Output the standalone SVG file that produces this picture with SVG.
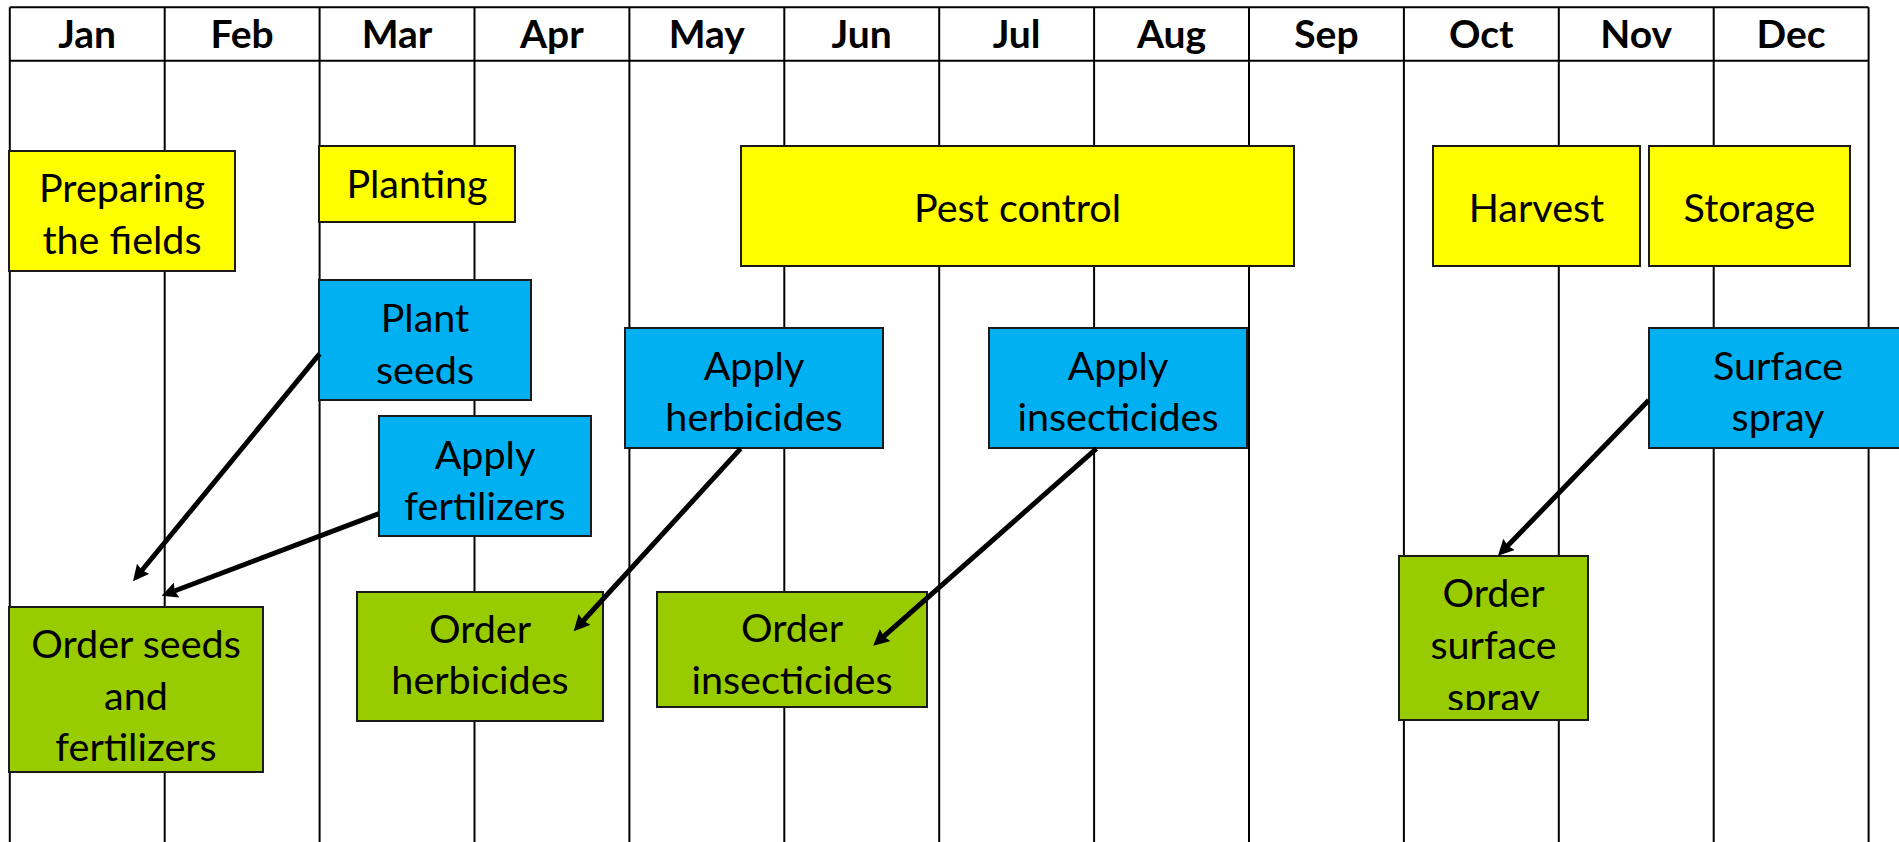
<svg xmlns="http://www.w3.org/2000/svg" width="1899" height="842" viewBox="0 0 1899 842">
<style>
.grid{stroke:#000;stroke-width:2;fill:none}
.hdr{font-family:Lato,"Liberation Sans",sans-serif;font-weight:bold;font-size:39px;fill:#000;text-anchor:middle}
.lbl{font-family:Lato,"Liberation Sans",sans-serif;font-size:39.5px;fill:#000;text-anchor:middle}
.y{fill:#FFFF00;stroke:#1a1a1a;stroke-width:2}
.b{fill:#00B0F0;stroke:#1a1a1a;stroke-width:2}
.g{fill:#99CC00;stroke:#1a1a1a;stroke-width:2}
.arr{stroke:#000;stroke-width:5;fill:none;marker-end:url(#ah)}
</style>
<defs>
<marker id="ah" markerUnits="userSpaceOnUse" markerWidth="16" markerHeight="16" viewBox="0 0 16 16" refX="8" refY="8" orient="auto">
<path d="M0,0 L16,8 L0,16 L2,8 z" fill="#000"/>
</marker>
<clipPath id="clipSpray"><rect x="1399" y="556" width="189" height="154"/></clipPath>
</defs>
<rect x="0" y="0" width="1899" height="842" fill="#fff"/>
<g id="grid">
<line class="grid" x1="9.8" y1="7.3" x2="1868.6" y2="7.3"/>
<line class="grid" x1="9.8" y1="60.7" x2="1868.6" y2="60.7"/>
<line class="grid" x1="9.8" y1="7.3" x2="9.8" y2="842"/>
<line class="grid" x1="164.7" y1="7.3" x2="164.7" y2="842"/>
<line class="grid" x1="319.6" y1="7.3" x2="319.6" y2="842"/>
<line class="grid" x1="474.5" y1="7.3" x2="474.5" y2="842"/>
<line class="grid" x1="629.4" y1="7.3" x2="629.4" y2="842"/>
<line class="grid" x1="784.3" y1="7.3" x2="784.3" y2="842"/>
<line class="grid" x1="939.2" y1="7.3" x2="939.2" y2="842"/>
<line class="grid" x1="1094.1" y1="7.3" x2="1094.1" y2="842"/>
<line class="grid" x1="1249" y1="7.3" x2="1249" y2="842"/>
<line class="grid" x1="1403.9" y1="7.3" x2="1403.9" y2="842"/>
<line class="grid" x1="1558.8" y1="7.3" x2="1558.8" y2="842"/>
<line class="grid" x1="1713.7" y1="7.3" x2="1713.7" y2="842"/>
<line class="grid" x1="1868.6" y1="7.3" x2="1868.6" y2="842"/>
</g>
<g id="months">
<text class="hdr" x="87.2" y="47.5">Jan</text>
<text class="hdr" x="242.1" y="47.5">Feb</text>
<text class="hdr" x="397" y="47.5">Mar</text>
<text class="hdr" x="551.9" y="47.5">Apr</text>
<text class="hdr" x="706.8" y="47.5">May</text>
<text class="hdr" x="861.7" y="47.5">Jun</text>
<text class="hdr" x="1016.6" y="47.5">Jul</text>
<text class="hdr" x="1171.5" y="47.5">Aug</text>
<text class="hdr" x="1326.4" y="47.5">Sep</text>
<text class="hdr" x="1481.3" y="47.5">Oct</text>
<text class="hdr" x="1636.2" y="47.5">Nov</text>
<text class="hdr" x="1791.1" y="47.5">Dec</text>
</g>
<g id="preparing"><rect class="y" x="9" y="151" width="226" height="120"/><text class="lbl" x="122" y="202">Preparing</text><text class="lbl" x="122" y="254">the fields</text></g>
<g id="planting"><rect class="y" x="319" y="146" width="196" height="76"/><text class="lbl" x="417" y="198">Planting</text></g>
<g id="pest"><rect class="y" x="741" y="146" width="553" height="120"/><text class="lbl" x="1017.5" y="222">Pest control</text></g>
<g id="harvest"><rect class="y" x="1433" y="146" width="207" height="120"/><text class="lbl" x="1536.5" y="222">Harvest</text></g>
<g id="storage"><rect class="y" x="1649" y="146" width="201" height="120"/><text class="lbl" x="1749.5" y="222">Storage</text></g>
<g id="plantseeds"><rect class="b" x="319" y="280" width="212" height="120"/><text class="lbl" x="425" y="332">Plant</text><text class="lbl" x="425" y="384">seeds</text></g>
<g id="applyfert"><rect class="b" x="379" y="416" width="212" height="120"/><text class="lbl" x="485" y="469">Apply</text><text class="lbl" x="485" y="520">fertilizers</text></g>
<g id="applyherb"><rect class="b" x="625" y="328" width="258" height="120"/><text class="lbl" x="754" y="380">Apply</text><text class="lbl" x="754" y="431">herbicides</text></g>
<g id="applyins"><rect class="b" x="989" y="328" width="258" height="120"/><text class="lbl" x="1118" y="380">Apply</text><text class="lbl" x="1118" y="431">insecticides</text></g>
<g id="surfspray"><rect class="b" x="1649" y="328" width="258" height="120"/><text class="lbl" x="1778" y="380">Surface</text><text class="lbl" x="1778" y="431">spray</text></g>
<g id="orderseeds"><rect class="g" x="9" y="607" width="254" height="165"/><text class="lbl" x="136" y="658">Order seeds</text><text class="lbl" x="136" y="710">and</text><text class="lbl" x="136" y="761">fertilizers</text></g>
<g id="orderherb"><rect class="g" x="357" y="592" width="246" height="129"/><text class="lbl" x="480" y="643">Order</text><text class="lbl" x="480" y="694">herbicides</text></g>
<g id="orderins"><rect class="g" x="657" y="592" width="270" height="115"/><text class="lbl" x="792" y="642">Order</text><text class="lbl" x="792" y="694">insecticides</text></g>
<g id="ordersurf"><rect class="g" x="1399" y="556" width="189" height="164"/><g clip-path="url(#clipSpray)"><text class="lbl" x="1493.5" y="607">Order</text><text class="lbl" x="1493.5" y="659">surface</text><text class="lbl" x="1493.5" y="711">spray</text></g></g>
<g id="connectors">
<line class="arr" x1="319.6" y1="353.9" x2="138.1" y2="575"/>
<line class="arr" x1="379" y1="513.7" x2="169.1" y2="593"/>
<line class="arr" x1="740.6" y1="448.6" x2="579.1" y2="625.3"/>
<line class="arr" x1="1096.4" y1="448.6" x2="879.2" y2="640.4"/>
<line class="arr" x1="1648.7" y1="400.2" x2="1503.5" y2="550.1"/>
</g>
</svg>
